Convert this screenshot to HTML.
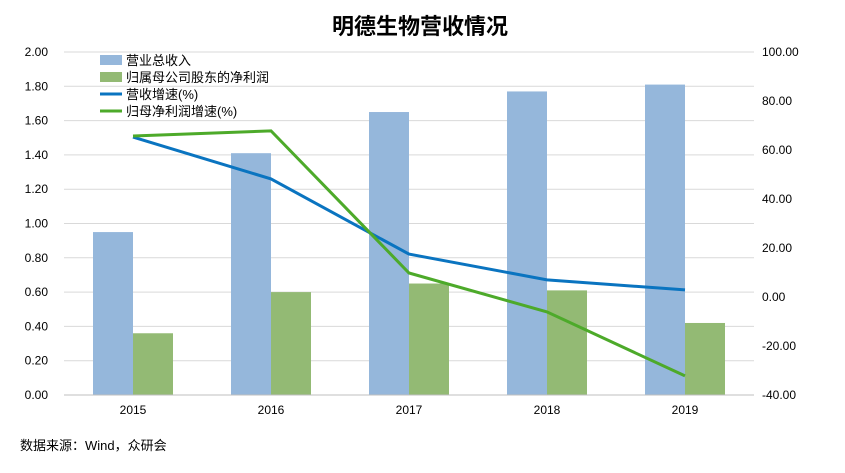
<!DOCTYPE html>
<html><head><meta charset="utf-8"><style>
body{margin:0;background:#fff;}
svg text{font-family:"Liberation Sans","Noto Sans CJK SC",sans-serif;}
</style></head><body>
<svg width="845" height="468" xmlns="http://www.w3.org/2000/svg">
<rect width="845" height="468" fill="#fff"/>
<text x="420" y="34" text-anchor="middle" font-size="22" font-weight="bold" fill="#000">明德生物营收情况</text>
<g id="grid"></g><g id="bars"></g><g id="lines"></g><g id="axes"></g>
<g font-size="13" fill="#000">
<rect x="100" y="55" width="22" height="10" fill="#95B7DB"/>
<text x="126" y="65">营业总收入</text>
<rect x="100" y="72" width="22" height="10" fill="#93BA74"/>
<text x="126" y="82">归属母公司股东的净利润</text>
<line x1="100" y1="94" x2="122" y2="94" stroke="#0A74C0" stroke-width="3"/>
<text x="126" y="99">营收增速(%)</text>
<line x1="100" y1="111" x2="122" y2="111" stroke="#4DAA2A" stroke-width="3"/>
<text x="126" y="116">归母净利润增速(%)</text>
</g>
<text x="20" y="450" font-size="13" fill="#000">数据来源：Wind，众研会</text>
</svg>
<script>
const categories=["2015","2016","2017","2018","2019"];
const revenue=[0.95,1.41,1.65,1.77,1.81];
const profit=[0.36,0.60,0.65,0.61,0.42];
const revenueGrowth=[65.3,48.2,17.5,7.0,2.9];
const profitGrowth=[65.7,67.8,9.8,-6.1,-32.2];
const leftTicks=["0.00","0.20","0.40","0.60","0.80","1.00","1.20","1.40","1.60","1.80","2.00"];
const rightTicks=["-40.00","-20.00","0.00","20.00","40.00","60.00","80.00","100.00"];
const NS="http://www.w3.org/2000/svg";
const X0=64,X1=754,Y0=395,Y1=52;
const step=(X1-X0)/categories.length;
const xc=i=>X0+step*(i+0.5);
const yL=v=>Y0-(v/2)*(Y0-Y1);
const yR=v=>Y0-((v+40)/140)*(Y0-Y1);
function mk(tag,attrs,parent){const e=document.createElementNS(NS,tag);for(const k in attrs)e.setAttribute(k,attrs[k]);document.getElementById(parent).appendChild(e);return e;}
leftTicks.forEach(t=>{const y=yL(parseFloat(t));
const l=mk('line',{x1:X0,x2:X1,y1:y,y2:y,stroke:'#d9d9d9'},'grid');


const tx=mk('text',{x:48,y:y+4,'text-anchor':'end','font-size':12},'axes');tx.textContent=t;

});
rightTicks.forEach(t=>{const y=yR(parseFloat(t));
const tx=mk('text',{x:762,y:y+4,'font-size':12},'axes');tx.textContent=t;

});
const ax=mk('line',{x1:X0,x2:X1,y1:Y0,y2:Y0,stroke:'#bfbfbf'},'axes');


categories.forEach((c,i)=>{
const b=mk('rect',{x:xc(i)-40,y:yL(revenue[i]),width:40,height:Y0-yL(revenue[i]),fill:'#95B7DB'},'bars');


const g=mk('rect',{x:xc(i),y:yL(profit[i]),width:40,height:Y0-yL(profit[i]),fill:'#93BA74'},'bars');


const tx=mk('text',{x:xc(i),y:414,'text-anchor':'middle','font-size':12},'axes');tx.textContent=c;


});
const p1=mk('polyline',{points:revenueGrowth.map((v,i)=>xc(i)+','+yR(v)).join(' '),fill:'none',stroke:'#0A74C0','stroke-width':3},'lines');


const p2=mk('polyline',{points:profitGrowth.map((v,i)=>xc(i)+','+yR(v)).join(' '),fill:'none',stroke:'#4DAA2A','stroke-width':3},'lines');


</script>
</body></html>
